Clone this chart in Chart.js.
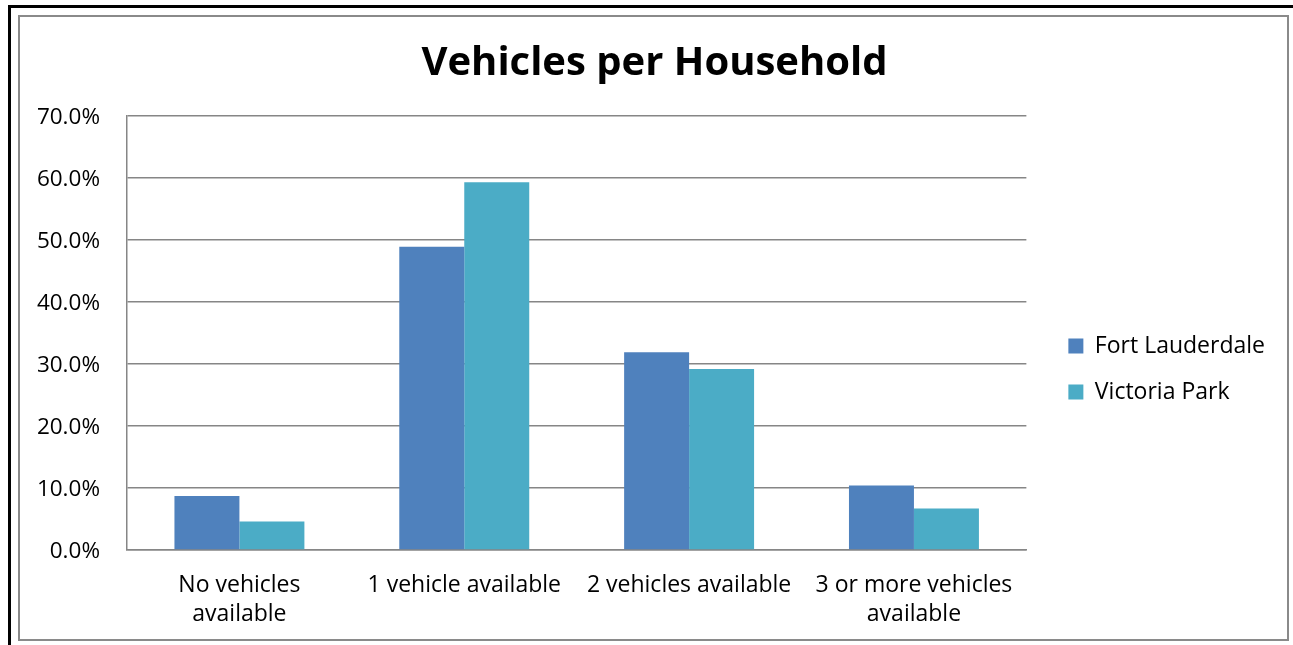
<!DOCTYPE html>
<html><head><meta charset="utf-8">
<script src="https://cdn.jsdelivr.net/npm/chart.js@4"></script>
<style>
html,body{margin:0;padding:0;background:#fff;width:1293px;height:645px;overflow:hidden;}
#outer{position:absolute;left:8px;top:5px;width:1300px;height:660px;border-left:3px solid #000;border-top:3px solid #000;}
#inner{position:absolute;left:18px;top:15px;width:1271px;height:626px;border:2px solid #8a8a8a;box-sizing:border-box;}
#c{position:absolute;left:0;top:0;}
</style></head><body>
<div id="outer"></div><div id="inner"></div>
<canvas id="c" width="1293" height="645"></canvas>
<script>
const categories = [["No vehicles", "available"], "1 vehicle available", "2 vehicles available", ["3 or more vehicles", "available"]];
const seriesNames = ["Fort Lauderdale", "Victoria Park"];
const fortLauderdale = [8.7, 48.9, 31.9, 10.4];
const victoriaPark = [4.6, 59.3, 29.2, 6.7];
const yTickValues = [0, 10, 20, 30, 40, 50, 60, 70];
const chartTitle = "Vehicles per Household";

const FONT = "'Open Sans', 'DejaVu Sans', sans-serif";
const GRID = '#868686';
const PAD_L = 34, PAD_R = 18;

new Chart(document.getElementById('c'), {
  type: 'bar',
  data: {
    labels: categories,
    datasets: [
      { label: seriesNames[0], data: fortLauderdale, backgroundColor: '#4F81BD', borderWidth: 0 },
      { label: seriesNames[1], data: victoriaPark, backgroundColor: '#4BACC6', borderWidth: 0 }
    ]
  },
  options: {
    responsive: false,
    animation: false,
    devicePixelRatio: 1,
    layout: { padding: { left: PAD_L, right: PAD_R, top: 0, bottom: 0 } },
    datasets: { bar: { categoryPercentage: 0.578, barPercentage: 1.0 } },
    plugins: {
      title: {
        display: true, text: chartTitle, color: '#000',
        font: { family: FONT, size: 40, weight: 'bold', lineHeight: 1.2 },
        padding: { top: 40, bottom: 28 }
      },
      legend: {
        position: 'right', align: 'center', maxWidth: 400,
        title: { display: true, text: ' ', font: { family: FONT, size: 10, lineHeight: 1 }, padding: { top: 0, bottom: 83 } },
        labels: {
          color: '#000', font: { family: FONT, size: 23 },
          boxWidth: 15, boxHeight: 15, padding: 23
        }
      },
      tooltip: { enabled: false }
    },
    scales: {
      x: {
        grid: { display: false, drawTicks: false },
        border: { display: true, color: GRID, width: 1.5 },
        ticks: {
          color: '#000', font: { family: FONT, size: 23, lineHeight: 1.26 },
          padding: 21, maxRotation: 0, autoSkip: false
        },
        afterFit: s => { s.height = 95; }
      },
      y: {
        min: 0, max: 70,
        afterBuildTicks: s => { s.ticks = yTickValues.map(v => ({ value: v })); },
        grid: { color: GRID, lineWidth: 1.5, drawTicks: false },
        border: { display: true, color: GRID, width: 1.5 },
        ticks: {
          color: '#000', font: { family: FONT, size: 22.5 }, padding: 27, labelOffset: 2,
          callback: v => v.toFixed(1) + '%'
        },
        afterFit: s => { s.width = 127 - PAD_L; }
      },
      y2: {
        position: 'right', display: true,
        grid: { display: false, drawTicks: false },
        border: { display: false },
        ticks: { display: false },
        afterFit: s => { s.width = 19; }
      }
    }
  }
});
</script>
</body></html>
